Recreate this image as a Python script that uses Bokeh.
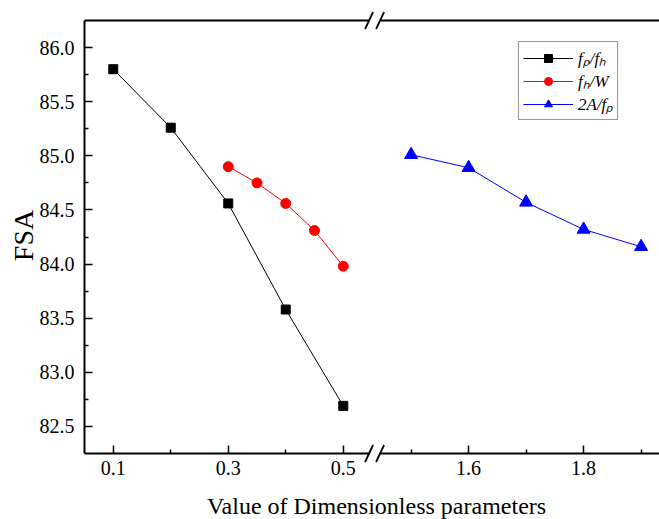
import math
from bokeh.plotting import figure
from bokeh.models import (FixedTicker, LinearAxis, Legend, LegendItem, Range1d,
                          PrintfTickFormatter, Label)
from bokeh.embed import file_html
from bokeh.resources import INLINE

# ---- data ----
x_fp_fh = [0.1, 0.2, 0.3, 0.4, 0.5]
fsa_fp_fh = [85.80, 85.26, 84.56, 83.58, 82.69]

x_fh_w = [0.3, 0.35, 0.4, 0.45, 0.5]
fsa_fh_w = [84.90, 84.75, 84.56, 84.31, 83.98]

x_2a_fp = [1.5, 1.6, 1.7, 1.8, 1.9]
fsa_2a_fp = [85.01, 84.89, 84.57, 84.32, 84.16]

x_major = [0.1, 0.3, 0.5, 1.6, 1.8]
x_major_labels = ["0.1", "0.3", "0.5", "1.6", "1.8"]
x_minor = [0.2, 0.4, 1.5, 1.7, 1.9]
y_major = [82.5, 83.0, 83.5, 84.0, 84.5, 85.0, 85.5, 86.0]
y_minor = [82.75, 83.25, 83.75, 84.25, 84.75, 85.25, 85.75]

labels = ["f\u209a/f\u2095", "f\u2095/W", "2A/f\u209a"]
x_title = "Value of Dimensionless parameters"
y_title = "FSA"

# ---- layout constants (pixels of the 659x519 canvas) ----
W, H = 659, 519
LEFT, TOP, BOTTOM = 84, 20, 453   # drawn box edges
X0, X1 = 0.05, 1.05               # visible x extent (mapped units)
Y0, Y1 = 82.25, 86.25             # visible y extent
PXX = (X1 - X0) / (W - LEFT)      # x units per pixel
PXY = (Y1 - Y0) / (BOTTOM - TOP)  # y units per pixel

# ---- broken x axis mapping ----
SHIFT = 0.882          # amount the right segment is pulled left
BREAK_AT = 0.5545      # position of the break on the drawn axis


def bx(v):
    return round(v if v < 1.0 else v - SHIFT, 4)


FONT = "Liberation Serif"

p = figure(width=W, height=H, output_backend="svg", toolbar_location=None,
           x_range=Range1d(X0 - LEFT * PXX, X1),
           y_range=Range1d(Y0 - (H - BOTTOM) * PXY, Y1 + TOP * PXY),
           min_border_left=0, min_border_right=0, min_border_top=0,
           min_border_bottom=0)
p.outline_line_color = None
p.xgrid.visible = False
p.ygrid.visible = False
p.background_fill_color = "white"
p.border_fill_color = "white"

# series
series = [
    (x_fp_fh, fsa_fp_fh, "black", "square", 9),
    (x_fh_w, fsa_fh_w, "#ff0000", "circle", 10),
    (x_2a_fp, fsa_2a_fp, "#0000ff", "triangle", 13),
]
items = []
for (xs, ys, col, mk, sz), lab in zip(series, labels):
    u = [bx(v) for v in xs]
    lr = p.line(u, ys, line_color=col, line_width=1)
    sr = p.scatter(u, ys, marker=mk, size=sz, fill_color=col, line_color=col)
    items.append(LegendItem(label=lab, renderers=[lr, sr]))

# axes
for ax in [p.xaxis[0], p.yaxis[0]]:
    ax.axis_line_width = 2
    ax.major_tick_in = 8
    ax.major_tick_out = 0
    ax.minor_tick_in = 4
    ax.minor_tick_out = 0
    ax.major_tick_line_width = 1.5
    ax.minor_tick_line_width = 1.5
    ax.major_label_text_font = FONT
    ax.major_label_text_font_size = "20px"
    ax.major_label_text_color = "black"

xa = p.xaxis[0]
xa.fixed_location = Y0
xa.bounds = (X0, X1 + 9 * PXX)
xa.ticker = FixedTicker(ticks=[bx(v) for v in x_major],
                        minor_ticks=[bx(v) for v in x_minor])
xa.major_label_overrides = {bx(v): s for v, s in zip(x_major, x_major_labels)}
xa.major_label_standoff = 7

ya = p.yaxis[0]
ya.fixed_location = X0
ya.bounds = (Y0, Y1)
ya.ticker = FixedTicker(ticks=y_major, minor_ticks=y_minor)
ya.formatter = PrintfTickFormatter(format="%.1f")
ya.major_label_standoff = 10

top = LinearAxis(ticker=FixedTicker(ticks=[]), axis_line_width=2,
                 fixed_location=Y1, bounds=(X0, X1 + 9 * PXX),
                 major_tick_line_color=None, minor_tick_line_color=None,
                 major_label_text_color=None)
p.add_layout(top, "above")

# axis titles (frame-relative screen positions)
p.add_layout(Label(x=376, y=14, x_units="screen", y_units="screen",
                   text=x_title, text_font=FONT, text_font_size="24px",
                   text_color="black", text_align="center",
                   text_baseline="alphabetic"))
p.add_layout(Label(x=23, y=H - 235, x_units="screen", y_units="screen",
                   text=y_title, text_font=FONT, text_font_size="28px",
                   text_color="black", text_align="center",
                   text_baseline="alphabetic", angle=math.pi / 2))

# axis break marks (drawn above the axes)
for ypos in [Y1, Y0]:
    p.segment(x0=[BREAK_AT - 5 * PXX], y0=[ypos], x1=[BREAK_AT + 6 * PXX], y1=[ypos],
              line_color="white", line_width=5, level="overlay")
    cxs = [BREAK_AT - 5.5 * PXX, BREAK_AT + 5.5 * PXX]
    p.segment(x0=[c - 4 * PXX for c in cxs], y0=[ypos - 8.5 * PXY] * 2,
              x1=[c + 4 * PXX for c in cxs], y1=[ypos + 8.5 * PXY] * 2,
              line_color="black", line_width=1.8, level="overlay")

legend = Legend(items=items, location=(518, H - 120))
legend.label_text_font = FONT
legend.label_text_font_style = "italic"
legend.label_text_font_size = "17px"
legend.label_text_color = "black"
legend.glyph_width = 50
legend.glyph_height = 20
legend.label_height = 20
legend.spacing = 0
legend.padding = 4
legend.margin = 0
legend.label_standoff = 5
legend.border_line_color = "#333333"
legend.border_line_width = 1
legend.background_fill_alpha = 1
p.add_layout(legend)

open("out.html", "w").write(file_html(p, INLINE))
